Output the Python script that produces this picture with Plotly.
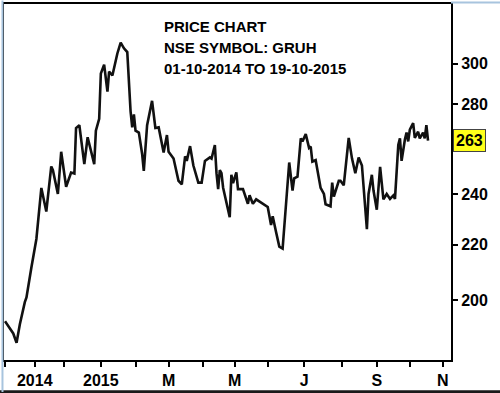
import math
import plotly.graph_objects as go

# Trading-session index (0 = 01-10-2014) and closing price of GRUH
session = [0, 5, 7, 9, 12, 13, 16, 19, 22, 25, 28, 29, 32, 34, 37, 40, 42, 43, 45, 48,
           50, 54, 55, 57, 58, 60, 62, 63, 65, 67, 68, 70, 72, 74, 76, 77, 78, 79, 81, 83,
           84, 86, 89, 91, 93, 96, 98, 99, 102, 105, 107, 109, 110, 112, 114, 117, 119, 121, 124, 125,
           127, 128, 129, 130, 131, 132, 136, 137, 138, 140, 141, 144, 147, 148, 150, 152, 156, 159, 161, 162,
           164, 166, 168, 169, 172, 174, 175, 177, 179, 180, 182, 184, 185, 186, 188, 191, 193, 194, 197, 198,
           199, 202, 203, 205, 208, 210, 212, 214, 216, 219, 220, 222, 223, 225, 227, 229, 231, 233, 235, 236,
           238, 239, 240, 242, 243, 244, 245, 247, 248, 250, 251, 253, 254, 255, 256]
price = [193.0, 189.0, 186.0, 192.0, 199.4, 201.0, 211.7, 222.2, 242.5, 232.9, 251.6, 250.0, 240.0, 258.0, 243.0, 249.0, 248.6, 268.7, 270.0, 252.6,
         264.5, 252.6, 267.5, 273.0, 295.0, 299.5, 286.0, 296.0, 294.0, 301.5, 305.3, 311.0, 308.0, 306.0, 276.5, 269.0, 275.0, 267.5, 266.6, 257.0,
         249.7, 270.0, 281.5, 268.7, 269.0, 257.7, 265.5, 258.0, 255.0, 245.5, 244.0, 256.0, 254.0, 260.5, 252.0, 244.7, 244.7, 254.0, 255.5, 255.0,
         261.0, 248.7, 242.0, 250.0, 248.7, 242.6, 230.6, 248.0, 244.5, 249.0, 242.0, 242.0, 236.0, 239.5, 236.0, 237.8, 236.0, 234.7, 227.6, 231.0,
         225.0, 219.3, 218.6, 227.7, 253.3, 241.4, 246.5, 247.2, 264.0, 262.6, 265.9, 259.7, 260.3, 253.7, 254.3, 242.5, 240.0, 235.8, 235.0, 244.7,
         238.9, 245.5, 245.5, 243.6, 264.2, 255.0, 248.7, 255.5, 252.0, 226.0, 240.0, 248.0, 241.4, 233.6, 251.4, 237.8, 240.0, 238.0, 239.4, 238.0,
         261.0, 264.0, 254.0, 263.5, 266.6, 262.6, 268.0, 271.0, 264.2, 267.0, 264.0, 266.6, 264.0, 270.0, 263.0]

# Month-start sessions and their labels
month_start = [0, 18, 36, 58, 79, 99, 120, 139, 159, 181, 204, 225, 245, 265]
month_label = ["", "2014", "", "2015", "", "M", "", "M", "", "J", "", "S", "", "N"]

price_ticks = [200, 220, 240, 280, 300]
last_price = 263

title_lines = ["PRICE CHART", "NSE SYMBOL: GRUH", "01-10-2014 TO 19-10-2015"]

FONT = "Arial, Liberation Sans, sans-serif"

fig = go.Figure()
fig.add_trace(go.Scatter(x=session, y=price, mode="lines",
                         line=dict(color="#111111", width=2.6), hoverinfo="skip"))

fig.update_layout(
    width=500, height=393,
    margin=dict(l=2, r=49, t=2, b=33),
    plot_bgcolor="white", paper_bgcolor="white",
    showlegend=False,
    font=dict(family=FONT, color="black", size=16),
)
fig.update_xaxes(
    range=[-0.6, 269.9],
    tickmode="array", tickvals=month_start, ticktext=month_label,
    ticks="outside", ticklen=5, tickwidth=1.5, tickcolor="black",
    showline=True, linecolor="black", linewidth=2, mirror=True,
    showgrid=False, zeroline=False,
    tickfont=dict(family=FONT, size=16, color="black", weight="bold"),
)
fig.update_yaxes(
    type="log", side="right",
    range=[math.log10(180.6), math.log10(332.3)],
    tickmode="array", tickvals=price_ticks, ticktext=[str(v) for v in price_ticks],
    ticks="outside", ticklen=5, tickwidth=1.5, tickcolor="black",
    showline=True, linecolor="black", linewidth=2, mirror=True,
    showgrid=False, zeroline=False,
    tickfont=dict(family=FONT, size=16, color="black", weight="bold"),
)

line_y = [0.937, 0.879, 0.820]
for txt, yy in zip(title_lines, line_y):
    fig.add_annotation(text=txt, xref="paper", yref="paper", x=0.354, y=yy,
                       xanchor="left", yanchor="middle", showarrow=False,
                       font=dict(family=FONT, size=15, color="black", weight="bold"))

fig.add_annotation(text=str(last_price), xref="paper", yref="y", x=1, xshift=2,
                   y=math.log10(last_price), xanchor="left", yanchor="middle",
                   showarrow=False, bgcolor="#ffff1a", bordercolor="#444444",
                   borderwidth=1, borderpad=2,
                   font=dict(family=FONT, size=16, color="black", weight="bold"))

# Outer picture frame
fig.add_shape(type="line", xref="paper", yref="paper", x0=-0.01, x1=1.12,
              y0=-0.0894, y1=-0.0894, line=dict(color="#1a1a1a", width=3))
fig.add_shape(type="line", xref="paper", yref="paper", x0=-0.0034, x1=-0.0034,
              y0=-0.09, y1=1.01, line=dict(color="#a8c4de", width=2))
fig.add_shape(type="line", xref="paper", yref="paper", x0=1.0, x1=1.12,
              y0=1.004, y1=1.004, line=dict(color="#a8c4de", width=2))

fig.write_html("out.html")
